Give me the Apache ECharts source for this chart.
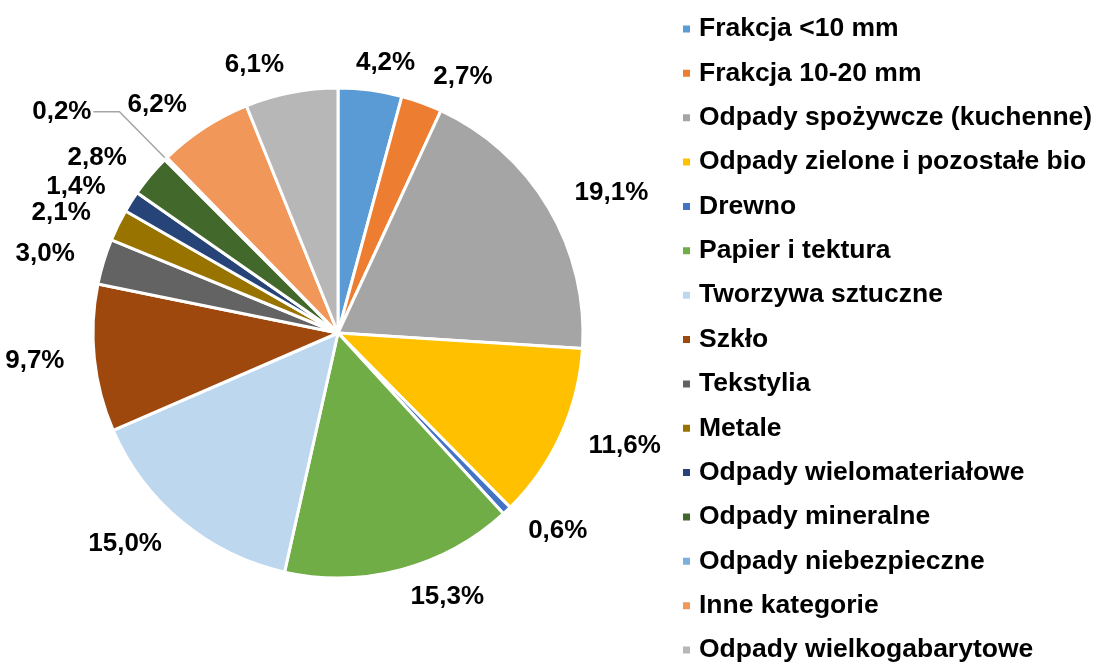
<!DOCTYPE html>
<html>
<head>
<meta charset="utf-8">
<script src="https://cdn.jsdelivr.net/npm/echarts@6/dist/echarts.min.js"></script>
<style>
html,body{margin:0;padding:0;background:#fff;}
#chart{width:1096px;height:664px;}
</style>
</head>
<body>
<div id="chart"></div>
<script>
const categories = [
  'Frakcja <10 mm',
  'Frakcja 10-20 mm',
  'Odpady spożywcze (kuchenne)',
  'Odpady zielone i pozostałe bio',
  'Drewno',
  'Papier i tektura',
  'Tworzywa sztuczne',
  'Szkło',
  'Tekstylia',
  'Metale',
  'Odpady wielomateriałowe',
  'Odpady mineralne',
  'Odpady niebezpieczne',
  'Inne kategorie',
  'Odpady wielkogabarytowe'
];
const values = [4.2, 2.7, 19.1, 11.6, 0.6, 15.3, 15.0, 9.7, 3.0, 2.1, 1.4, 2.8, 0.2, 6.2, 6.1];
const colors = ['#5B9BD5', '#ED7D31', '#A5A5A5', '#FFC000', '#4472C4', '#70AD47', '#BDD7EE',
  '#9E480E', '#636363', '#997300', '#264478', '#43682B', '#7CAFDD', '#F1975A', '#B7B7B7'];
const leaderItems = ['Odpady niebezpieczne'];
const centredLabelItems = ['Frakcja <10 mm'];

const font = '"Liberation Sans", Arial, sans-serif';
const data = categories.map((name, i) => {
  const d = { name: name, value: values[i], itemStyle: { color: colors[i] } };
  if (leaderItems.includes(name)) {
    d.labelLine = { show: true, length: 66, length2: 26, lineStyle: { color: '#A5A5A5', width: 1.5 } };
  }
  if (centredLabelItems.includes(name)) {
    d.label = { offset: [-20, 0] };
  }
  return d;
});

const chart = echarts.init(document.getElementById('chart'), null, { renderer: 'canvas' });
chart.setOption({
  animation: false,
  backgroundColor: '#fff',
  color: colors,
  legend: {
    orient: 'vertical',
    left: 681,
    top: 14,
    height: 900,
    padding: 0,
    itemWidth: 9,
    itemHeight: 9,
    itemGap: 14.36,
    icon: 'rect',
    textStyle: { fontFamily: font, fontWeight: 'bold', fontSize: 26.5, color: '#000', lineHeight: 30, padding: [0, 0, 0, 3] },
    data: categories
  },
  series: [{
    type: 'pie',
    center: [338, 333],
    radius: [0, 245],
    startAngle: 90,
    clockwise: true,
    avoidLabelOverlap: false,
    labelLayout: { hideOverlap: false },
    itemStyle: { borderColor: '#fff', borderWidth: 3 },
    label: {
      show: true,
      position: 'outside',
      overflow: 'none',
      formatter: p => p.value.toFixed(1).replace('.', ',') + '%',
      fontFamily: font,
      fontWeight: 'bold',
      fontSize: 26,
      color: '#000',
      distanceToLabelLine: 2
    },
    labelLine: { show: false, length: 28, length2: 0 },
    data: data
  }]
});
</script>
</body>
</html>
